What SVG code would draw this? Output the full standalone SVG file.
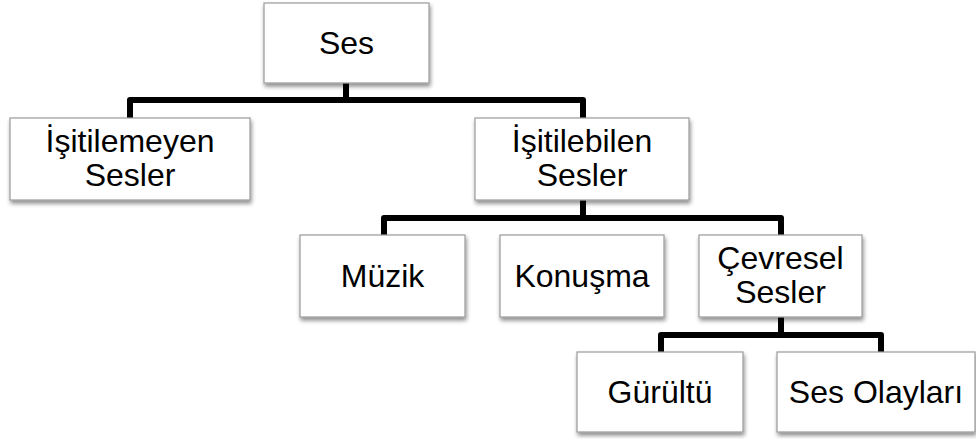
<svg xmlns="http://www.w3.org/2000/svg" width="976" height="439" viewBox="0 0 976 439">
  <defs>
    <filter id="shadow" x="-10%" y="-10%" width="125%" height="135%">
      <feGaussianBlur in="SourceAlpha" stdDeviation="2"/>
      <feOffset dx="1" dy="3" result="blur"/>
      <feComponentTransfer><feFuncA type="linear" slope="0.45"/></feComponentTransfer>
      <feMerge><feMergeNode/><feMergeNode in="SourceGraphic"/></feMerge>
    </filter>
  </defs>
  <style>
    .box { fill: #ffffff; stroke: #9a9a9a; stroke-width: 1.2; filter: url(#shadow); }
    .label { font-family: "Liberation Sans", Arial, sans-serif; font-size: 32px; fill: #000; text-anchor: middle; }
    .conn { fill: none; stroke: #000; stroke-width: 6; stroke-linejoin: round; }
  </style>

  <g id="connectors">
    <path class="conn" d="M346 83 V100"/>
    <path class="conn" d="M130 118 V100 H583 V118"/>
    <path class="conn" d="M583 200 V218"/>
    <path class="conn" d="M384 235 V218 H781 V235"/>
    <path class="conn" d="M781 317 V335"/>
    <path class="conn" d="M661 352 V335 H881 V352"/>
  </g>

  <g id="ses">
    <rect class="box" x="264" y="3" width="165" height="80"/>
    <text class="label" x="346.5" y="54">Ses</text>
  </g>
  <g id="isitilemeyen">
    <rect class="box" x="10" y="118" width="240" height="82"/>
    <text class="label" x="130" y="152"><tspan x="130">İşitilemeyen</tspan><tspan x="130" dy="34">Sesler</tspan></text>
  </g>
  <g id="isitilebilen">
    <rect class="box" x="475" y="118" width="214" height="82"/>
    <text class="label" x="582" y="152"><tspan x="582">İşitilebilen</tspan><tspan x="582" dy="34">Sesler</tspan></text>
  </g>
  <g id="muzik">
    <rect class="box" x="300" y="235" width="165" height="82"/>
    <text class="label" x="382.5" y="287">Müzik</text>
  </g>
  <g id="konusma">
    <rect class="box" x="500" y="235" width="164" height="82"/>
    <text class="label" x="582" y="287">Konuşma</text>
  </g>
  <g id="cevresel">
    <rect class="box" x="699" y="235" width="163" height="82"/>
    <text class="label" x="780.5" y="269"><tspan x="780.5">Çevresel</tspan><tspan x="780.5" dy="34">Sesler</tspan></text>
  </g>
  <g id="gurultu">
    <rect class="box" x="577" y="352" width="166" height="80"/>
    <text class="label" x="660" y="403">Gürültü</text>
  </g>
  <g id="ses-olaylari">
    <rect class="box" x="777" y="352" width="198" height="80"/>
    <text class="label" x="876" y="403">Ses Olayları</text>
  </g>
</svg>
